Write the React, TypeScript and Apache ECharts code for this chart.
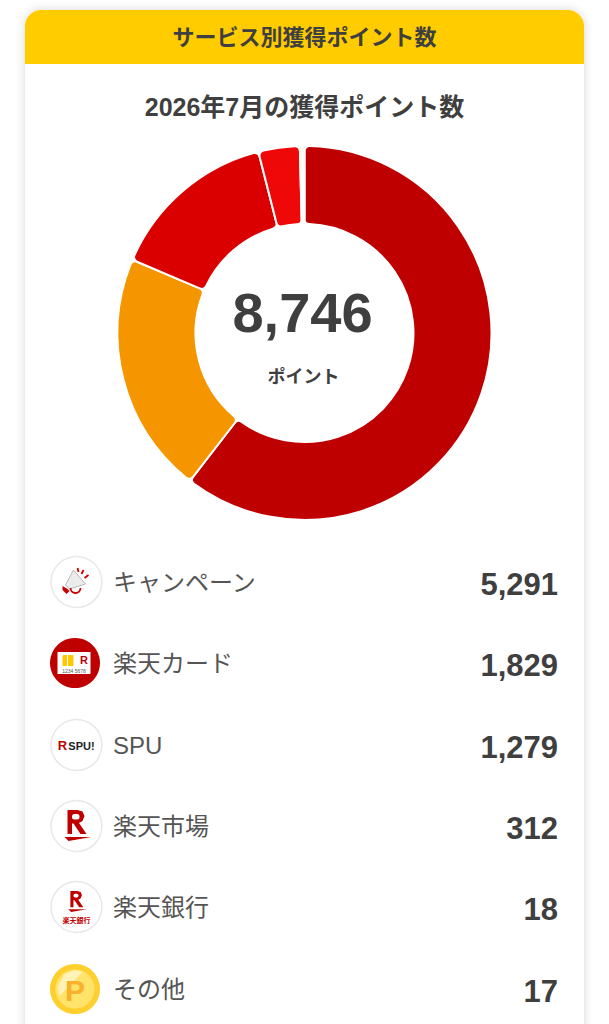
import React, { useEffect, useRef } from "react";
import * as echarts from "echarts";

const headerTitle = "サービス別獲得ポイント数";
const chartTitle = "2026年7月の獲得ポイント数";
const totalLabel = "8,746";
const unitLabel = "ポイント";
const categories = ["キャンペーン", "楽天カード", "SPU", "楽天市場", "楽天銀行", "その他"];
const values = [5291, 1829, 1279, 312, 18, 17];
const colors = ["#bf0000", "#f59600", "#da0000", "#ee0808", "#ffcc00", "#ffe9b0"];
const rowCenters = [582, 663, 745, 826, 907, 989];

const FONT = '"Liberation Sans", "Noto Sans CJK JP", sans-serif';
const INK = "#3f3f3f";
const ICON_X = 76.5;

const rShape = (cx: number, top: number, s: number) => [
  {
    type: "polygon",
    shape: {
      points: [
        [cx - 9 * s, top], [cx + 1 * s, top], [cx + 6 * s, top + 1.5 * s], [cx + 8 * s, top + 6 * s],
        [cx + 6 * s, top + 11 * s], [cx + 2.5 * s, top + 13 * s], [cx + 10 * s, top + 24 * s],
        [cx + 4 * s, top + 24 * s], [cx - 3 * s, top + 13.5 * s], [cx - 4.5 * s, top + 13.5 * s],
        [cx - 4.5 * s, top + 24 * s], [cx - 9 * s, top + 24 * s],
      ],
    },
    style: { fill: "#bf0000" },
  },
  {
    type: "rect",
    shape: { x: cx - 4.5 * s, y: top + 4 * s, width: 7.5 * s, height: 5.5 * s, r: 2.5 * s },
    style: { fill: "#ffffff" },
  },
  {
    type: "polygon",
    shape: {
      points: [
        [cx - 12 * s, top + 27 * s], [cx + 15 * s, top + 27 * s], [cx - 8 * s, top + 31 * s],
      ],
    },
    style: { fill: "#bf0000" },
  },
];

const ringIcon = (cy: number) => ({
  type: "circle",
  shape: { cx: ICON_X, cy, r: 25.5 },
  style: { fill: "#ffffff", stroke: "#e8e8e8", lineWidth: 1.5 },
});

const iconFor = (i: number, cy: number): any[] => {
  const x = ICON_X;
  if (i === 0) {
    return [
      ringIcon(cy),
      {
        type: "polygon",
        shape: { points: [[x - 3, cy - 12], [x + 9, cy + 2], [x - 7, cy + 7], [x - 11, cy + 3]] },
        style: { fill: "#ececec", stroke: "#b8b8b8", lineWidth: 1 },
      },
      {
        type: "polygon",
        shape: { points: [[x - 14, cy + 4], [x - 9, cy + 7], [x - 7, cy + 9], [x - 10, cy + 12], [x - 14, cy + 8]] },
        style: { fill: "#c80000" },
      },
      {
        type: "arc",
        shape: { cx: x - 1, cy: cy + 6, r: 5, startAngle: 0, endAngle: Math.PI, clockwise: true },
        style: { stroke: "#c80000", fill: "none", lineWidth: 1.8 },
      },
      { type: "line", shape: { x1: x + 1, y1: cy - 14, x2: x + 2, y2: cy - 10 }, style: { stroke: "#d00000", lineWidth: 1.8 } },
      { type: "line", shape: { x1: x + 7, y1: cy - 12, x2: x + 5, y2: cy - 8 }, style: { stroke: "#d00000", lineWidth: 1.8 } },
      { type: "line", shape: { x1: x + 8, y1: cy - 4, x2: x + 12, y2: cy - 7 }, style: { stroke: "#d00000", lineWidth: 1.8 } },
    ];
  }
  if (i === 1) {
    return [
      { type: "circle", shape: { cx: x - 1.5, cy, r: 25 }, style: { fill: "#bf0000" } },
      { type: "rect", shape: { x: x - 19, y: cy - 11, width: 33, height: 22 }, style: { fill: "#ffffff" } },
      { type: "rect", shape: { x: x - 14, y: cy - 8, width: 11, height: 11, r: 1 }, style: { fill: "#ffc800" } },
      { type: "line", shape: { x1: x - 9, y1: cy - 8, x2: x - 9, y2: cy + 3 }, style: { stroke: "#ffffff", lineWidth: 1 } },
      { type: "text", style: { x: x + 7.5, y: cy - 3, text: "R", font: `bold 11px ${FONT}`, fill: "#bf0000", align: "center", verticalAlign: "middle" } },
      { type: "text", style: { x: x - 2.5, y: cy + 7.5, text: "1234 5678", font: `5px ${FONT}`, fill: "#555555", align: "center", verticalAlign: "middle" } },
    ];
  }
  if (i === 2) {
    return [
      ringIcon(cy),
      { type: "text", style: { x: x - 14, y: cy + 0.5, text: "R", font: `bold 13px ${FONT}`, fill: "#bf0000", align: "center", verticalAlign: "middle" } },
      { type: "text", style: { x: x + 5, y: cy + 0.5, text: "SPU!", font: `bold 11px ${FONT}`, fill: "#222222", align: "center", verticalAlign: "middle" } },
    ];
  }
  if (i === 3) {
    return [ringIcon(cy), ...rShape(x, cy - 16, 1)];
  }
  if (i === 4) {
    return [
      ringIcon(cy),
      ...rShape(x, cy - 16, 0.68),
      { type: "text", style: { x, y: cy + 13, text: "楽天銀行", font: `bold 7px "Noto Sans CJK JP"`, fill: "#bf0000", align: "center", verticalAlign: "middle" } },
    ];
  }
  return [
    { type: "circle", shape: { cx: x - 1.5, cy, r: 25 }, style: { fill: "#ffcf2e" } },
    { type: "circle", shape: { cx: x - 1.5, cy, r: 19.5 }, style: { fill: "#ffe36b" } },
    {
      type: "polygon",
      shape: { points: [[x - 19, cy - 2], [x - 12, cy - 15], [x - 2, cy - 19], [x + 6, cy - 17], [x - 17, cy + 7]] },
      style: { fill: "#fff3b8" },
    },
    { type: "text", style: { x: x - 1.5, y: cy + 1, text: "P", font: `bold 30px ${FONT}`, fill: "#f9b02a", align: "center", verticalAlign: "middle" } },
  ];
};

export default function App() {
  const ref = useRef<HTMLDivElement>(null);

  useEffect(() => {
    const chart = echarts.init(ref.current!, undefined, { renderer: "svg" });
    const rows: any[] = [];
    categories.forEach((name, i) => {
      const cy = rowCenters[i];
      rows.push(...iconFor(i, cy));
      rows.push({
        type: "text",
        style: { x: 113, y: cy, text: name, font: `24px ${FONT}`, fill: "#555555", align: "left", verticalAlign: "middle" },
      });
      rows.push({
        type: "text",
        style: { x: 558, y: cy + 2, text: values[i].toLocaleString("en-US"), font: `bold 31px ${FONT}`, fill: INK, align: "right", verticalAlign: "middle" },
      });
    });

    chart.setOption({
      animation: false,
      backgroundColor: "#ffffff",
      series: [
        {
          type: "pie",
          z: 5,
          silent: true,
          center: [304.5, 333],
          radius: [109, 187],
          startAngle: 90,
          clockwise: true,
          minAngle: 0,
          avoidLabelOverlap: false,
          label: { show: false },
          labelLine: { show: false },
          itemStyle: { borderColor: "#ffffff", borderWidth: 2, borderRadius: 5 },
          data: categories.map((name, i) => ({
            name,
            value: values[i],
            itemStyle: { color: colors[i] },
          })),
        },
      ],
      graphic: [
        {
          type: "group",
          z: 0,
          silent: true,
          children: [
            {
              type: "rect",
              shape: { x: 25, y: 10, width: 559, height: 1060, r: 16 },
              style: { fill: "#ffffff", shadowBlur: 10, shadowColor: "rgba(0,0,0,0.16)", shadowOffsetY: 0 },
            },
            {
              type: "rect",
              shape: { x: 25, y: 10, width: 559, height: 54, r: [16, 16, 0, 0] },
              style: { fill: "#ffcc00" },
            },
          ],
        },
        {
          type: "group",
          z: 10,
          silent: true,
          children: [
            { type: "text", style: { x: 304.5, y: 37, text: headerTitle, font: `bold 22px ${FONT}`, fill: INK, align: "center", verticalAlign: "middle" } },
            { type: "text", style: { x: 304.5, y: 107, text: chartTitle, font: `bold 25px ${FONT}`, fill: INK, align: "center", verticalAlign: "middle" } },
            { type: "text", style: { x: 302.5, y: 312, text: totalLabel, font: `bold 56px ${FONT}`, fill: INK, align: "center", verticalAlign: "middle" } },
            { type: "text", style: { x: 303.5, y: 377, text: unitLabel, font: `bold 18px ${FONT}`, fill: INK, align: "center", verticalAlign: "middle" } },
            ...rows,
          ],
        },
      ],
    });
    return () => chart.dispose();
  }, []);

  return (
    <div
      ref={ref}
      style={{ position: "fixed", left: 0, top: 0, width: 609, height: 1024, overflow: "hidden" }}
    />
  );
}
